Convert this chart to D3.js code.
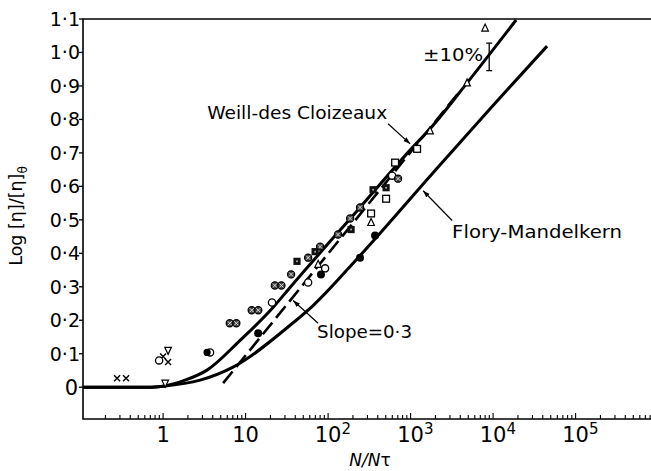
<html>
<head>
<script src="https://d3js.org/d3.v7.min.js"></script>
<style>
  body { margin: 0; background: #fff; }
  svg text { font-family: "DejaVu Sans", sans-serif; fill: #000; }
</style>
</head>
<body>
<svg id="chart" width="651" height="471"></svg>
<script>
// curves: N/N_tau against log [eta]/[eta]_theta
var weillN = [0.107, 0.695, 1, 1.85, 3.41, 8.58, 21.5, 34.6, 244, 1072, 1722, 4840, 19000];
var weillY = [0, 0, 0.003, 0.021, 0.051, 0.140, 0.238, 0.298, 0.537, 0.718, 0.772, 0.909, 1.097];
var floryN = [0.107, 0.695, 1, 2.81, 7.05, 34.6, 65.8, 231, 1875, 9200, 45100];
var floryY = [0, 0, 0.003, 0.021, 0.060, 0.185, 0.244, 0.387, 0.641, 0.832, 1.019];
var slopeN = [5.34, 3980];
var slopeY = [0.012, 0.885];

// measured points, one array pair per symbol
var crossN = [0.277, 0.356, 1.0, 1.15];
var crossY = [0.027, 0.027, 0.092, 0.075];
var openCircleN = [0.895, 20.9, 57.3, 92, 597];
var openCircleY = [0.080, 0.253, 0.313, 0.355, 0.632];
var downTriN = [1.15, 1.06];
var downTriY = [0.110, 0.012];
var halfCircleN = [3.51];
var halfCircleY = [0.104];
var pairCircleN = [7.05, 13.0, 24.8];
var pairCircleY = [0.191, 0.230, 0.304];
var crossCircleN = [35.6, 57.3, 80, 132, 185, 244, 705];
var crossCircleY = [0.337, 0.387, 0.420, 0.456, 0.504, 0.537, 0.623];
var darkSquareN = [42, 69.6, 190, 351, 505];
var darkSquareY = [0.376, 0.405, 0.471, 0.590, 0.596];
var openSquareN = [332, 505, 649, 1199];
var openSquareY = [0.519, 0.563, 0.671, 0.712];
var openTriN = [75.7, 332, 1722, 4840, 8000];
var openTriY = [0.367, 0.492, 0.766, 0.909, 1.073];
var filledCircleN = [14.2, 82, 244, 371];
var filledCircleY = [0.161, 0.337, 0.387, 0.453];

// axes
var yTicks = [0, 0.1, 0.2, 0.3, 0.4, 0.5, 0.6, 0.7, 0.8, 0.9, 1.0, 1.1];
var yTickLabels = ["0", "0·1", "0·2", "0·3", "0·4", "0·5", "0·6", "0·7", "0·8", "0·9", "1·0", "1·1"];
var xTicks = [1, 10, 100, 1000, 10000, 100000];
var xTickBase = ["1", "10", "10", "10", "10", "10"];
var xTickExp = ["", "", "2", "3", "4", "5"];

function pairs(a, b) { return a.map(function (v, i) { return [v, b[i]]; }); }

function draw() {
  var svg = d3.select("#chart");
  var pl = 83, pr = 651, pt = 19, pb = 419;

  var x = d3.scaleLog().domain([0.107, 8.2e5]).range([pl, pr]);
  var y = d3.scaleLinear().domain([-0.095, 1.1]).range([pb, pt]);

  var defs = svg.append("defs");
  defs.append("clipPath").attr("id", "plot")
    .append("rect").attr("x", pl).attr("y", pt)
    .attr("width", pr - pl).attr("height", pb - pt);
  defs.append("marker")
    .attr("id", "head").attr("viewBox", "0 0 10 10")
    .attr("refX", 10).attr("refY", 5)
    .attr("markerWidth", 7).attr("markerHeight", 7)
    .attr("markerUnits", "userSpaceOnUse")
    .attr("orient", "auto")
    .append("path").attr("d", "M0,1.5 L10,5 L0,8.5 Z").attr("fill", "#000");

  // frame: top, left and bottom lines
  svg.append("path")
    .attr("d", "M" + pr + "," + pt + "H" + pl + "V" + pb + "H" + pr)
    .attr("fill", "none").attr("stroke", "#000").attr("stroke-width", 1.6);

  // y ticks
  yTicks.forEach(function (v, i) {
    svg.append("line").attr("x1", pl - 4).attr("x2", pl)
      .attr("y1", y(v)).attr("y2", y(v)).attr("stroke", "#000").attr("stroke-width", 1.3);
    svg.append("text").attr("x", v === 0 ? 78 : 80).attr("y", y(v)).attr("dy", "0.36em")
      .attr("text-anchor", "end").style("font-size", v === 0 ? "21px" : "19px")
      .text(yTickLabels[i]);
  });

  // x ticks, minor and major, pointing inward
  var minor = [];
  for (var k = -1; k <= 5; k++) {
    for (var m = 1; m <= 9; m++) {
      var v = m * Math.pow(10, k);
      if (v > 0.107 && v < 8.2e5) minor.push(v);
    }
  }
  svg.selectAll(".xt").data(minor).enter().append("line")
    .attr("x1", function (d) { return x(d); }).attr("x2", function (d) { return x(d); })
    .attr("y1", pb).attr("y2", function (d) { return xTicks.indexOf(d) >= 0 ? pb - 6 : pb - 4; })
    .attr("stroke", "#000").attr("stroke-width", 1.1);

  xTicks.forEach(function (v, i) {
    var t = svg.append("text").attr("y", 442).style("font-size", "21px");
    t.append("tspan").text(xTickBase[i]);
    if (xTickExp[i]) {
      t.append("tspan").attr("dy", -8).style("font-size", "15px").text(xTickExp[i]);
    }
    var bw = t.select("tspan").node().getComputedTextLength();
    t.attr("x", x(v) - bw / 2);
  });

  // axis titles
  svg.append("text").attr("x", 370).attr("y", 466).attr("text-anchor", "middle")
    .style("font-size", "17px").style("font-style", "italic")
    .html("N/N<tspan font-style='normal'>τ</tspan>");

  var yl = svg.append("text").attr("transform", "translate(22,216) rotate(-90)")
    .attr("text-anchor", "middle").style("font-size", "17.5px");
  yl.append("tspan").text("Log [η]/[η]");
  yl.append("tspan").attr("dy", 5).style("font-size", "12px").text("θ");

  // curves
  var g = svg.append("g").attr("clip-path", "url(#plot)");
  var smooth = d3.line().x(function (d) { return x(d[0]); }).y(function (d) { return y(d[1]); })
    .curve(d3.curveMonotoneX);
  var straight = d3.line().x(function (d) { return x(d[0]); }).y(function (d) { return y(d[1]); });

  g.append("path").datum(pairs(weillN, weillY)).attr("d", smooth)
    .attr("fill", "none").attr("stroke", "#000").attr("stroke-width", 3);
  g.append("path").datum(pairs(floryN, floryY)).attr("d", smooth)
    .attr("fill", "none").attr("stroke", "#000").attr("stroke-width", 3);
  g.append("path").datum(pairs(slopeN, slopeY)).attr("d", straight)
    .attr("fill", "none").attr("stroke", "#000").attr("stroke-width", 2.6)
    .attr("stroke-dasharray", "15,6");

  // symbols
  var r = 3.6;
  pairs(crossN, crossY).forEach(function (d) {
    var cx = x(d[0]), cy = y(d[1]);
    svg.append("path").attr("d", "M" + (cx - 3) + "," + (cy - 3) + "L" + (cx + 3) + "," + (cy + 3) +
      "M" + (cx - 3) + "," + (cy + 3) + "L" + (cx + 3) + "," + (cy - 3))
      .attr("stroke", "#000").attr("stroke-width", 1.4);
  });
  pairs(openCircleN, openCircleY).forEach(function (d) {
    svg.append("circle").attr("cx", x(d[0])).attr("cy", y(d[1])).attr("r", r)
      .attr("fill", "#fff").attr("stroke", "#000").attr("stroke-width", 1.3);
  });
  pairs(filledCircleN, filledCircleY).forEach(function (d) {
    svg.append("circle").attr("cx", x(d[0])).attr("cy", y(d[1])).attr("r", r + 0.4)
      .attr("fill", "#000");
  });
  pairs(halfCircleN, halfCircleY).forEach(function (d) {
    svg.append("circle").attr("cx", x(d[0]) + 2).attr("cy", y(d[1])).attr("r", r)
      .attr("fill", "#fff").attr("stroke", "#000").attr("stroke-width", 1.3);
    svg.append("circle").attr("cx", x(d[0]) - 1).attr("cy", y(d[1])).attr("r", r)
      .attr("fill", "#000");
  });
  function crossCircle(cx, cy) {
    svg.append("circle").attr("cx", cx).attr("cy", cy).attr("r", r)
      .attr("fill", "#444").attr("stroke", "#000").attr("stroke-width", 1.2);
    svg.append("path").attr("d", "M" + (cx - 2) + "," + (cy - 2) + "L" + (cx + 2) + "," + (cy + 2) +
      "M" + (cx - 2) + "," + (cy + 2) + "L" + (cx + 2) + "," + (cy - 2))
      .attr("stroke", "#ddd").attr("stroke-width", 1);
  }
  pairs(crossCircleN, crossCircleY).forEach(function (d) { crossCircle(x(d[0]), y(d[1])); });
  pairs(pairCircleN, pairCircleY).forEach(function (d) {
    crossCircle(x(d[0]) - 3.3, y(d[1]));
    crossCircle(x(d[0]) + 3.3, y(d[1]));
  });
  pairs(darkSquareN, darkSquareY).forEach(function (d) {
    svg.append("rect").attr("x", x(d[0]) - 3.6).attr("y", y(d[1]) - 3.6)
      .attr("width", 7.2).attr("height", 7.2).attr("fill", "#111");
    svg.append("circle").attr("cx", x(d[0])).attr("cy", y(d[1])).attr("r", 1).attr("fill", "#aaa");
  });
  pairs(openSquareN, openSquareY).forEach(function (d) {
    svg.append("rect").attr("x", x(d[0]) - 3.4).attr("y", y(d[1]) - 3.4)
      .attr("width", 6.8).attr("height", 6.8)
      .attr("fill", "#fff").attr("stroke", "#000").attr("stroke-width", 1.3);
  });
  pairs(openTriN, openTriY).forEach(function (d) {
    var cx = x(d[0]), cy = y(d[1]);
    svg.append("path").attr("d", "M" + cx + "," + (cy - 4) + "L" + (cx + 3.3) + "," + (cy + 3) + "L" + (cx - 3.3) + "," + (cy + 3) + "Z")
      .attr("fill", "#fff").attr("stroke", "#000").attr("stroke-width", 1.2);
  });
  pairs(downTriN, downTriY).forEach(function (d) {
    var cx = x(d[0]), cy = y(d[1]);
    svg.append("path").attr("d", "M" + cx + "," + (cy + 4) + "L" + (cx + 3.3) + "," + (cy - 3) + "L" + (cx - 3.3) + "," + (cy - 3) + "Z")
      .attr("fill", "#fff").attr("stroke", "#000").attr("stroke-width", 1.2);
  });

  // annotations
  function arrow(n1, v1, n2, v2) {
    svg.append("line").attr("x1", x(n1)).attr("y1", y(v1)).attr("x2", x(n2)).attr("y2", y(v2))
      .attr("stroke", "#000").attr("stroke-width", 1.2).attr("marker-end", "url(#head)");
  }
  function label(n, v, anchor, width, s) {
    svg.append("text").attr("x", x(n)).attr("y", y(v)).attr("text-anchor", anchor)
      .attr("textLength", width).attr("lengthAdjust", "spacingAndGlyphs")
      .style("font-size", "18px").text(s);
  }
  label(520, 0.80, "end", 180, "Weill-des Cloizeaux");
  arrow(533, 0.787, 986, 0.727);

  label(3185, 0.447, "start", 170, "Flory-Mandelkern");
  arrow(3185, 0.498, 1418, 0.587);

  label(73.5, 0.146, "start", 95, "Slope=0·3");
  arrow(75.7, 0.191, 37.7, 0.259);

  label(7570, 0.975, "end", 60, "±10%");

  // +-10% error bar
  var ex = x(8970), e1 = y(0.946), e2 = y(1.028);
  svg.append("path").attr("d", "M" + ex + "," + e1 + "V" + e2 + "M" + (ex - 3) + "," + e1 + "H" + (ex + 3) + "M" + (ex - 3) + "," + e2 + "H" + (ex + 3))
    .attr("stroke", "#000").attr("stroke-width", 1.3).attr("fill", "none");
}
draw();
</script>
</body>
</html>
